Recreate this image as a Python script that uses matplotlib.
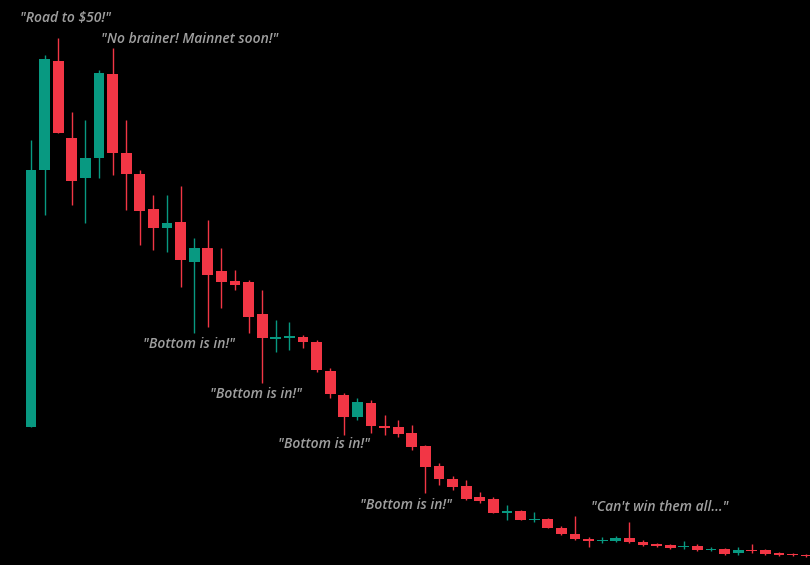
import matplotlib
matplotlib.use("Agg")
import matplotlib.pyplot as plt

# prices (arbitrary units)
opens  = [427,170,61,138,178,158,74,153,174,209,228,222,262,248,271,281,282,314,339,338,337,342,371,395,417,403,426,427,433,446,466,479,486,497,499,513,511,520,519,528,534,539,541,541,538,542,544,545,547,546,550,549,553,550,550,553,554,555]
closes = [170,59,133,181,158,73,153,174,211,228,223,260,248,275,282,285,317,338,337,336,342,370,394,417,402,426,428,434,447,467,479,487,499,501,513,511,520,519,528,534,539,541,540,538,542,545,546,548,546,550,549,554,550,551,554,555,555,556]
highs  = [140,55,38,112,120,70,48,120,170,195,195,186,238,220,248,270,280,290,320,322,335,340,368,393,398,400,415,420,425,445,463,476,480,492,497,505,510,512,518,526,516,537,537,536,522,540,543,544,541,544,547,548,547,544,549,552,553,554]
lows   = [427,215,133,205,223,178,175,210,245,250,252,287,333,327,308,290,333,383,352,350,348,372,398,435,420,433,435,437,450,493,485,490,500,503,513,520,520,522,528,535,540,547,543,542,543,546,547,549,549,551,551,555,555,553,555,556,556,557]
H = 565
opens = [H - v for v in opens]; closes = [H - v for v in closes]
highs = [H - v for v in highs]; lows = [H - v for v in lows]

notes = [('"Road to $50!"', 20, 18), ('"No brainer! Mainnet soon!"', 101, 39),
         ('"Bottom is in!"', 143, 344), ('"Bottom is in!"', 210, 394),
         ('"Bottom is in!"', 278, 444), ('"Bottom is in!"', 360, 505),
         ('"Can\'t win them all..."', 591, 507)]

GREEN, RED = "#089981", "#F23645"
fig = plt.figure(figsize=(8.1, 5.65), dpi=100, facecolor="black")
ax = fig.add_axes([0, 0, 1, 1], facecolor="black")
step = 13.6
ax.set_xlim(-31 / step, (810 - 31) / step)
ax.set_ylim(0, H)
ax.axis("off")
for i, (o, c, h, l) in enumerate(zip(opens, closes, highs, lows)):
    col = GREEN if c >= o else RED
    ax.vlines(i, l, h, color=col, lw=1)
    ax.bar(i, max(abs(c - o), 1.2), bottom=min(o, c), width=0.8, color=col, edgecolor=col, lw=0)
for t, x, y in notes:
    fig.text(x / 810, 1 - y / 565, t, color="#a0a0a0", fontsize=10, style="italic",
             weight="semibold", family="Open Sans", va="center", ha="left")
fig.savefig("out.png", facecolor="black")
